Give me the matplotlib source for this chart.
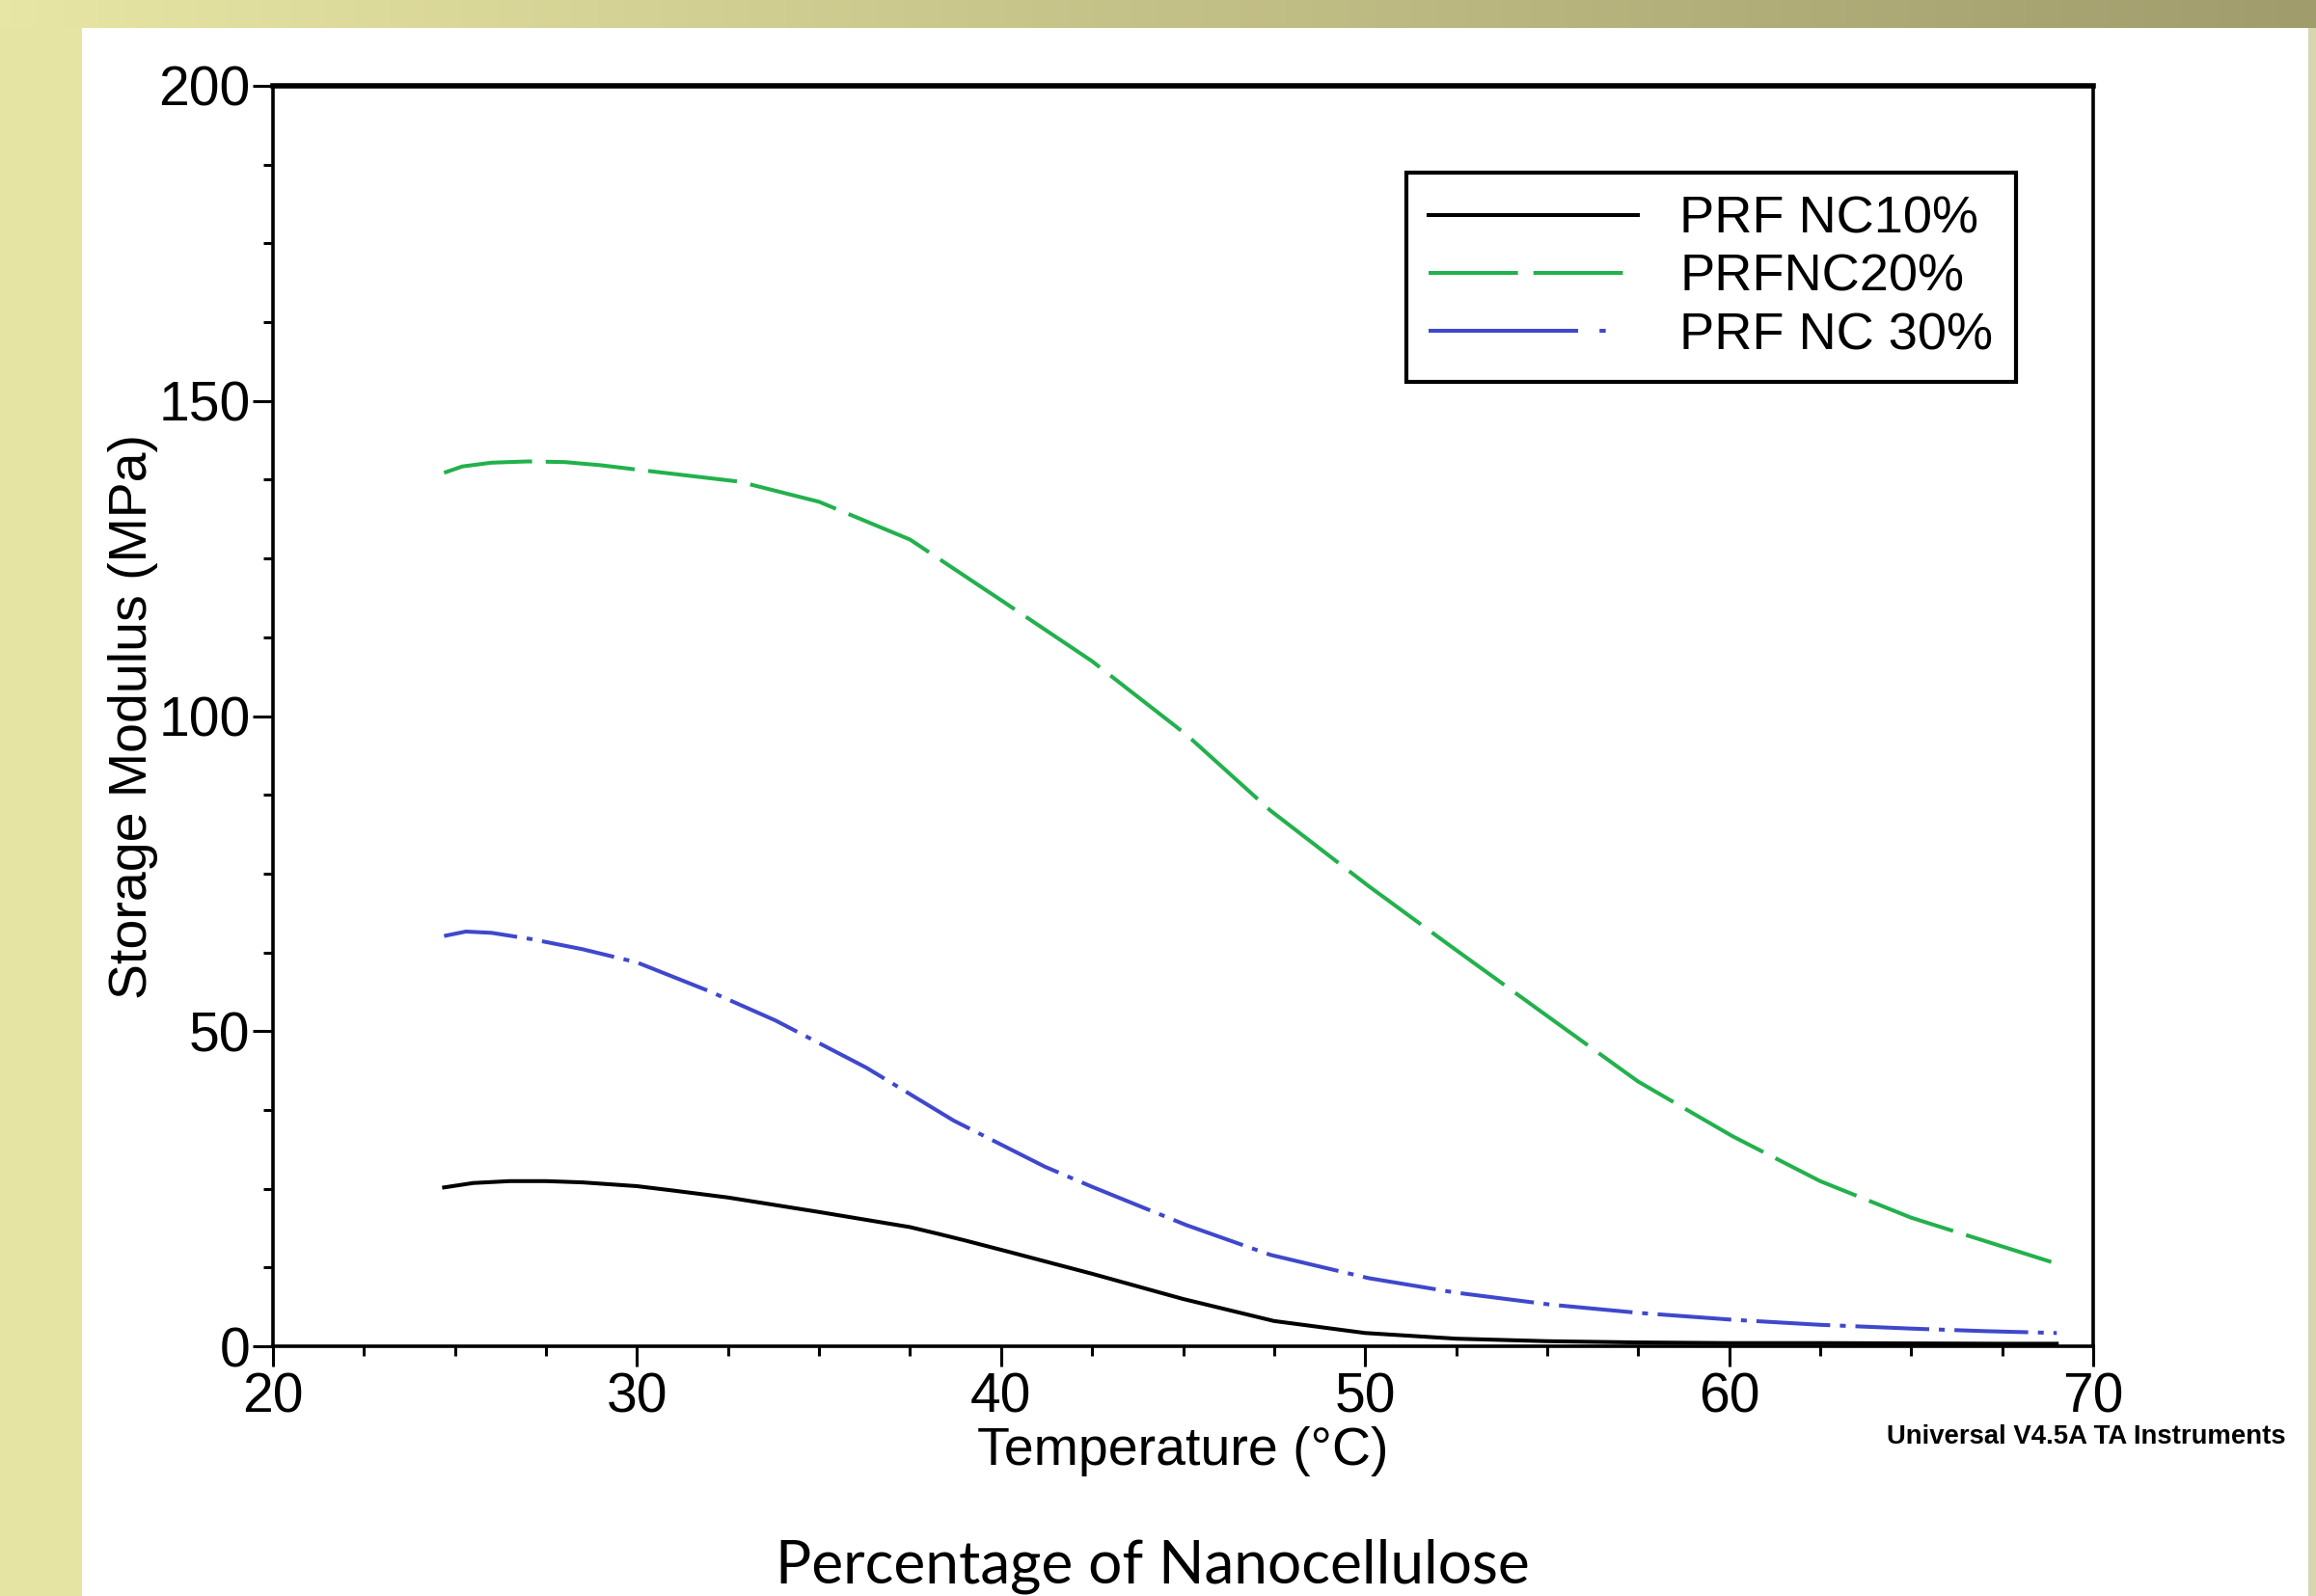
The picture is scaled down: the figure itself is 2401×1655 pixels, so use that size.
import numpy as np
import matplotlib.pyplot as plt
from matplotlib.patches import Rectangle
from matplotlib.lines import Line2D
from matplotlib.ticker import MultipleLocator

# temperatures (deg C) and storage modulus (MPa)
temp_10 = [24.7, 25.5, 26.5, 27.5, 28.5, 30, 31, 32.5, 35, 37.5, 38.3, 39, 40.2, 42.5, 45,
           47.5, 50, 52.5, 55, 57.5, 60, 62.5, 65, 67.5, 69]
nc_10 = [25.2, 25.9, 26.2, 26.2, 26.0, 25.4, 24.7, 23.6, 21.3, 18.9, 17.8, 16.8, 15.0, 11.5, 7.5,
         4.0, 2.1, 1.2, 0.8, 0.6, 0.5, 0.5, 0.45, 0.4, 0.4]

temp_20 = [24.7, 25.2, 26, 27, 28, 29, 30, 32.8, 35, 37.5, 40.1, 42.5, 45.1, 47.4,
           50.1, 52.3, 55.1, 57.5, 60.1, 62.5, 65, 67.3, 69]
nc_20 = [138.6, 139.6, 140.2, 140.4, 140.3, 139.8, 139.1, 137.2, 134.0, 128.0, 118.0,
         108.7, 97.0, 85.0, 73.0, 63.7, 52.0, 42.0, 33.3, 26.2, 20.4, 16.2, 13.1]

temp_30 = [24.7, 25.3, 26, 27.1, 28.5, 30, 32.0, 33.8, 36.3, 38.7, 41.2, 42.5, 45.1,
           47.4, 50.1, 52.5, 55.1, 57.5, 60.1, 62.5, 65, 67, 69]
nc_30 = [65.1, 65.8, 65.6, 64.6, 63.0, 60.9, 56.3, 51.7, 44.2, 35.8, 28.5, 25.3, 19.2,
         14.5, 10.8, 8.5, 6.6, 5.3, 4.2, 3.4, 2.8, 2.4, 2.1]

labels = ['PRF NC10%', 'PRFNC20%', 'PRF NC 30%']

W, H = 2401, 1655
fig = plt.figure(figsize=(24.01, 16.55), dpi=100)
fig.patch.set_facecolor('white')

# slide background: gradient band on top, yellow band on the left
bg = fig.add_axes([0, 0, 1, 1], zorder=-10)
bg.set_xlim(0, W)
bg.set_ylim(H, 0)
bg.axis('off')
c0 = np.array([0xe8, 0xe6, 0xa4]) / 255
c1 = np.array([0xa0, 0x9c, 0x6c]) / 255
t = np.linspace(0, 1, 256)
grad = (c0[None, :] * (1 - t[:, None]) + c1[None, :] * t[:, None])[None, :, :]
bg.imshow(grad, extent=[0, W, 29, 0], aspect='auto')
bg.add_patch(Rectangle((0, 29), 85, H - 29, color='#e6e4a2', lw=0))
bg.add_patch(Rectangle((2393, 29), 8, H - 29, color='#d8d6b0', lw=0))

ax = fig.add_axes([283 / W, 1 - 1396 / H, (2170 - 283) / W, (1396 - 89) / H])
ax.set_facecolor('none')

green, blue = '#22b14c', '#3f48cc'
ax.plot(temp_10, nc_10, color='black', lw=2.9)
ax.plot(temp_20, nc_20, color=green, lw=2.9, dashes=(23, 3.5))
ax.plot(temp_30, nc_30, color=blue, lw=2.9, dashes=(19, 2.5, 1.5, 2.5))

ax.set_xlim(20, 70)
ax.set_ylim(0, 200)
ax.xaxis.set_major_locator(MultipleLocator(10))
ax.xaxis.set_minor_locator(MultipleLocator(2.5))
ax.yaxis.set_major_locator(MultipleLocator(50))
ax.yaxis.set_minor_locator(MultipleLocator(12.5))

font = 'Liberation Sans'
ax.tick_params(which='major', direction='out', length=15, width=2.2, labelsize=41, pad=4)
ax.tick_params(which='minor', direction='out', length=7, width=2.2)
ax.tick_params(axis='y', which='major', pad=2)
for lab in ax.get_xticklabels() + ax.get_yticklabels():
    lab.set_fontfamily(font)
for side in ax.spines.values():
    side.set_linewidth(2.6)
ax.spines['top'].set_linewidth(4)

ax.set_xlabel('Temperature (°C)', fontsize=40, family=font, labelpad=2)
ax.set_ylabel('Storage Modulus (MPa)', fontsize=40, family=font, labelpad=0)

# legend samples drawn with the pattern the instrument software uses in its key
handles = [Line2D([], [], color='black', lw=2.9),
           Line2D([], [], color=green, lw=2.9, dashes=(23, 4)),
           Line2D([], [], color=blue, lw=2.9, dashes=(38.5, 5.5, 1.6, 10))]
leg = ax.legend(handles, labels, loc='upper left', bbox_to_anchor=(0.6227, 0.931),
                prop={'family': font, 'size': 39}, handlelength=4.0,
                handletextpad=0.8, labelspacing=0.19, borderpad=0.43,
                borderaxespad=0, fancybox=False, framealpha=1, edgecolor='black')
leg.get_frame().set_linewidth(3)

fig.text(2370 / W, 1 - 1490 / H, 'Universal V4.5A TA Instruments', fontsize=19.8,
         family=font, weight='bold', ha='right', va='center')
fig.text(1195 / W, 1 - 1624 / H, 'Percentage of Nanocellulose', fontsize=44.7,
         family='Lato', ha='center', va='center')

plt.savefig('out.png', dpi=100)
